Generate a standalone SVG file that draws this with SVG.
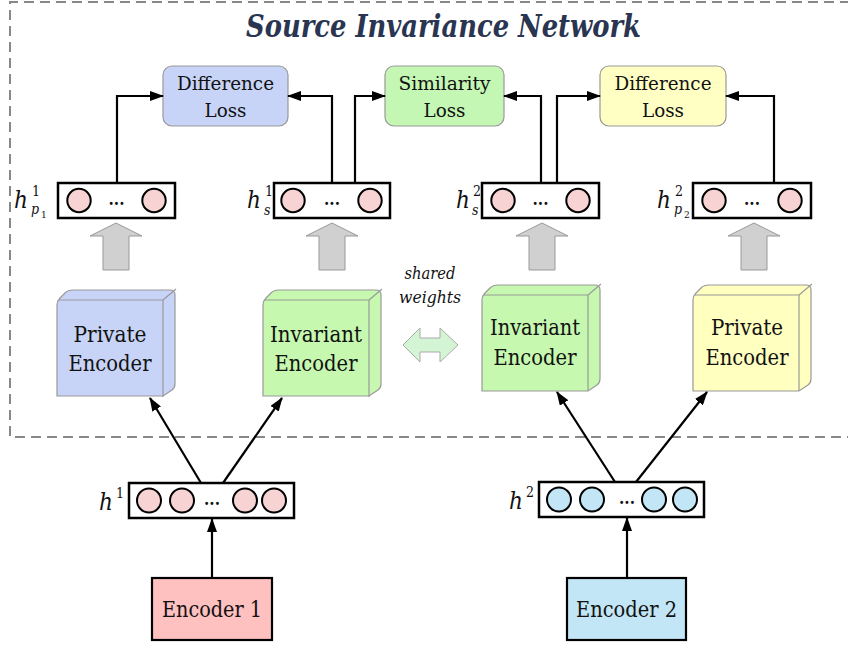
<svg xmlns="http://www.w3.org/2000/svg" xmlns:xlink="http://www.w3.org/1999/xlink" width="848" height="645" viewBox="0 0 848 645">
<defs>
<marker id="ah" markerUnits="userSpaceOnUse" markerWidth="14" markerHeight="10" refX="13" refY="5" orient="auto">
<path d="M0,0 L14,5 L0,10 Z" fill="#000"/>
</marker>
<path id="cube" d="M0,96 L0,5 Q0,1 3,-2 L8,-7 Q11,-10 16,-10 L113,-10 Q118,-10 118,-5 L118,84 Q118,88 115,90 L106,96 Z"/>
<polygon id="garrow" points="0,0 26,13 13,13 13,47 -13,47 -13,13 -26,13"/>
</defs>
<style>
.t{font-family:"DejaVu Serif Condensed","DejaVu Serif",serif;font-stretch:condensed;fill:#111}
.title{font-family:"DejaVu Serif Condensed","DejaVu Serif",serif;font-stretch:condensed;font-weight:bold;font-style:italic;fill:#2a3552}
.it{font-style:italic}
.loss{stroke:#999;stroke-width:1.2}
.vec{fill:#fff;stroke:#000;stroke-width:2.5}
.pc{fill:#f7d3d3;stroke:#000;stroke-width:2}
.bc{fill:#c2e6f6;stroke:#000;stroke-width:2}
.conn{stroke:#000;stroke-width:2.2;fill:none;marker-end:url(#ah)}
.ga{fill:#d0d0d0;stroke:#999;stroke-width:1}
.cube{stroke:#999;stroke-width:1.2}
.edge{stroke:#999;stroke-width:1.2;fill:none}
.dots{font-family:"DejaVu Serif",serif;font-weight:bold;font-size:16px;fill:#111}
</style>

<rect width="848" height="645" fill="#fff"/>

<!-- dashed frame -->
<path d="M850,2 H10 V437 H850" fill="none" stroke="#888" stroke-width="2" stroke-dasharray="10,6"/>
<text class="title" x="443.5" y="37" text-anchor="middle" font-size="31" textLength="395" lengthAdjust="spacingAndGlyphs">Source Invariance Network</text>

<!-- loss boxes -->
<g id="diff-loss-1">
<rect class="loss" x="163" y="66" width="125" height="60" rx="9" fill="#c8d4f7"/>
<text class="t" x="225.5" y="90" text-anchor="middle" font-size="19" textLength="97" lengthAdjust="spacingAndGlyphs">Difference</text>
<text class="t" x="225.5" y="117" text-anchor="middle" font-size="19" textLength="42" lengthAdjust="spacingAndGlyphs">Loss</text>
</g>
<g id="sim-loss">
<rect class="loss" x="385" y="66" width="119" height="60" rx="9" fill="#c4f6b4"/>
<text class="t" x="444.5" y="90" text-anchor="middle" font-size="19" textLength="92" lengthAdjust="spacingAndGlyphs">Similarity</text>
<text class="t" x="444.5" y="117" text-anchor="middle" font-size="19" textLength="42" lengthAdjust="spacingAndGlyphs">Loss</text>
</g>
<g id="diff-loss-2">
<rect class="loss" x="600" y="66" width="126" height="60" rx="9" fill="#ffffc4"/>
<text class="t" x="663" y="90" text-anchor="middle" font-size="19" textLength="97" lengthAdjust="spacingAndGlyphs">Difference</text>
<text class="t" x="663" y="117" text-anchor="middle" font-size="19" textLength="42" lengthAdjust="spacingAndGlyphs">Loss</text>
</g>

<!-- hidden vectors -->
<g id="hp1">
<rect class="vec" x="58" y="183" width="117" height="35"/>
<circle class="pc" cx="79" cy="200.5" r="11.7"/>
<circle class="pc" cx="154" cy="200.5" r="11.7"/>
<text class="dots" x="116.5" y="205" text-anchor="middle" textLength="16" lengthAdjust="spacingAndGlyphs">...</text>
<text class="t it" x="14" y="208" font-size="24">h</text>
<text class="t" x="32" y="196" font-size="14">1</text>
<text class="t it" x="31" y="214" font-size="14">p</text>
<text class="t" x="41" y="218" font-size="10">1</text>
</g>
<g id="hs1">
<rect class="vec" x="274" y="183" width="116" height="35"/>
<circle class="pc" cx="293" cy="200.5" r="11.7"/>
<circle class="pc" cx="370" cy="200.5" r="11.7"/>
<text class="dots" x="332" y="205" text-anchor="middle" textLength="16" lengthAdjust="spacingAndGlyphs">...</text>
<text class="t it" x="247" y="208" font-size="24">h</text>
<text class="t" x="265" y="196" font-size="14">1</text>
<text class="t it" x="264" y="215" font-size="14">s</text>
</g>
<g id="hs2">
<rect class="vec" x="482" y="183" width="117" height="35"/>
<circle class="pc" cx="503" cy="200.5" r="11.7"/>
<circle class="pc" cx="578" cy="200.5" r="11.7"/>
<text class="dots" x="540.5" y="205" text-anchor="middle" textLength="16" lengthAdjust="spacingAndGlyphs">...</text>
<text class="t it" x="456" y="208" font-size="24">h</text>
<text class="t" x="473" y="196" font-size="14">2</text>
<text class="t it" x="472" y="215" font-size="14">s</text>
</g>
<g id="hp2">
<rect class="vec" x="693" y="183" width="118" height="35"/>
<circle class="pc" cx="714" cy="200.5" r="11.7"/>
<circle class="pc" cx="790" cy="200.5" r="11.7"/>
<text class="dots" x="752" y="205" text-anchor="middle" textLength="16" lengthAdjust="spacingAndGlyphs">...</text>
<text class="t it" x="657" y="208" font-size="24">h</text>
<text class="t" x="675" y="196" font-size="14">2</text>
<text class="t it" x="674" y="214" font-size="14">p</text>
<text class="t" x="684" y="218" font-size="10">2</text>
</g>

<!-- gray block arrows -->
<g id="block-arrows">
<use href="#garrow" class="ga" x="116" y="223"/>
<use href="#garrow" class="ga" x="332" y="223"/>
<use href="#garrow" class="ga" x="542" y="223"/>
<use href="#garrow" class="ga" x="754" y="223"/>
</g>

<!-- encoders -->
<g id="private-enc-1">
<use href="#cube" class="cube" x="57" y="300" fill="#c8d4f7"/>
<path class="edge" d="M59,300 H163 V397 M163,300 L176,289"/>
<text class="t" x="110" y="342" text-anchor="middle" font-size="22" textLength="73" lengthAdjust="spacingAndGlyphs">Private</text>
<text class="t" x="110" y="371" text-anchor="middle" font-size="22" textLength="83" lengthAdjust="spacingAndGlyphs">Encoder</text>
</g>
<g id="invariant-enc-1">
<use href="#cube" class="cube" x="263" y="300" fill="#c6f8b0"/>
<path class="edge" d="M265,300 H369 V397 M369,300 L382,289"/>
<text class="t" x="316" y="342" text-anchor="middle" font-size="22" textLength="92" lengthAdjust="spacingAndGlyphs">Invariant</text>
<text class="t" x="316" y="371" text-anchor="middle" font-size="22" textLength="83" lengthAdjust="spacingAndGlyphs">Encoder</text>
</g>
<g id="invariant-enc-2">
<use href="#cube" class="cube" x="482" y="295" fill="#c6f8b0"/>
<path class="edge" d="M484,295 H588 V391 M588,295 L601,284"/>
<text class="t" x="535" y="335" text-anchor="middle" font-size="22" textLength="90" lengthAdjust="spacingAndGlyphs">Invariant</text>
<text class="t" x="535" y="365" text-anchor="middle" font-size="22" textLength="83" lengthAdjust="spacingAndGlyphs">Encoder</text>
</g>
<g id="private-enc-2">
<use href="#cube" class="cube" x="693" y="295" fill="#ffffc0"/>
<path class="edge" d="M695,295 H799 V391 M799,295 L812,284"/>
<text class="t" x="747" y="335" text-anchor="middle" font-size="22" textLength="72" lengthAdjust="spacingAndGlyphs">Private</text>
<text class="t" x="747" y="365" text-anchor="middle" font-size="22" textLength="83" lengthAdjust="spacingAndGlyphs">Encoder</text>
</g>

<!-- shared weights -->
<g id="shared-weights">
<text class="t it" x="430" y="279" text-anchor="middle" font-size="17" textLength="51" lengthAdjust="spacingAndGlyphs">shared</text>
<text class="t it" x="430" y="303" text-anchor="middle" font-size="17" textLength="62" lengthAdjust="spacingAndGlyphs">weights</text>
<polygon points="403,345 420,328 420,338 440,338 440,328 458,345 440,362 440,352 420,352 420,362" fill="#d4f5d4" stroke="#aaa" stroke-width="1"/>
</g>

<!-- bottom vectors -->
<g id="h1">
<rect class="vec" x="129" y="483" width="165" height="35"/>
<circle class="pc" cx="149" cy="500.5" r="12"/>
<circle class="pc" cx="182" cy="500.5" r="12"/>
<circle class="pc" cx="245" cy="500.5" r="12"/>
<circle class="pc" cx="274" cy="500.5" r="12"/>
<text class="dots" x="212" y="505" text-anchor="middle" textLength="16" lengthAdjust="spacingAndGlyphs">...</text>
<text class="t it" x="99" y="510" font-size="24">h</text>
<text class="t" x="116" y="498" font-size="14">1</text>
</g>
<g id="h2">
<rect class="vec" x="539" y="482" width="165" height="35"/>
<circle class="pc bc" cx="559" cy="499.5" r="12"/>
<circle class="pc bc" cx="592" cy="499.5" r="12"/>
<circle class="pc bc" cx="654" cy="499.5" r="12"/>
<circle class="pc bc" cx="685" cy="499.5" r="12"/>
<text class="dots" x="627" y="504" text-anchor="middle" textLength="16" lengthAdjust="spacingAndGlyphs">...</text>
<text class="t it" x="509" y="509" font-size="24">h</text>
<text class="t" x="526" y="497" font-size="14">2</text>
</g>

<g id="encoder-1">
<rect x="152" y="578" width="120" height="62" fill="#ffc0c0" stroke="#000" stroke-width="2.2"/>
<text class="t" x="212" y="617" text-anchor="middle" font-size="22" textLength="100" lengthAdjust="spacingAndGlyphs">Encoder 1</text>
</g>
<g id="encoder-2">
<rect x="567" y="578" width="119" height="62" fill="#c2e6f6" stroke="#000" stroke-width="2.2"/>
<text class="t" x="626.5" y="617" text-anchor="middle" font-size="22" textLength="101" lengthAdjust="spacingAndGlyphs">Encoder 2</text>
</g>

<!-- connectors -->
<g id="connectors">
<path class="conn" d="M117,183 V96 H163"/>
<path class="conn" d="M332,183 V96 H288"/>
<path class="conn" d="M355,183 V96 H385"/>
<path class="conn" d="M541,183 V96 H504"/>
<path class="conn" d="M557,183 V96 H600"/>
<path class="conn" d="M774,183 V96 H726"/>
<path class="conn" d="M212,578 V519"/>
<path class="conn" d="M627,578 V518"/>
<path class="conn" d="M201,483 L150,398"/>
<path class="conn" d="M223,483 L282,398"/>
<path class="conn" d="M615,482 L557,392"/>
<path class="conn" d="M636,482 L707,392"/>
</g>
</svg>
